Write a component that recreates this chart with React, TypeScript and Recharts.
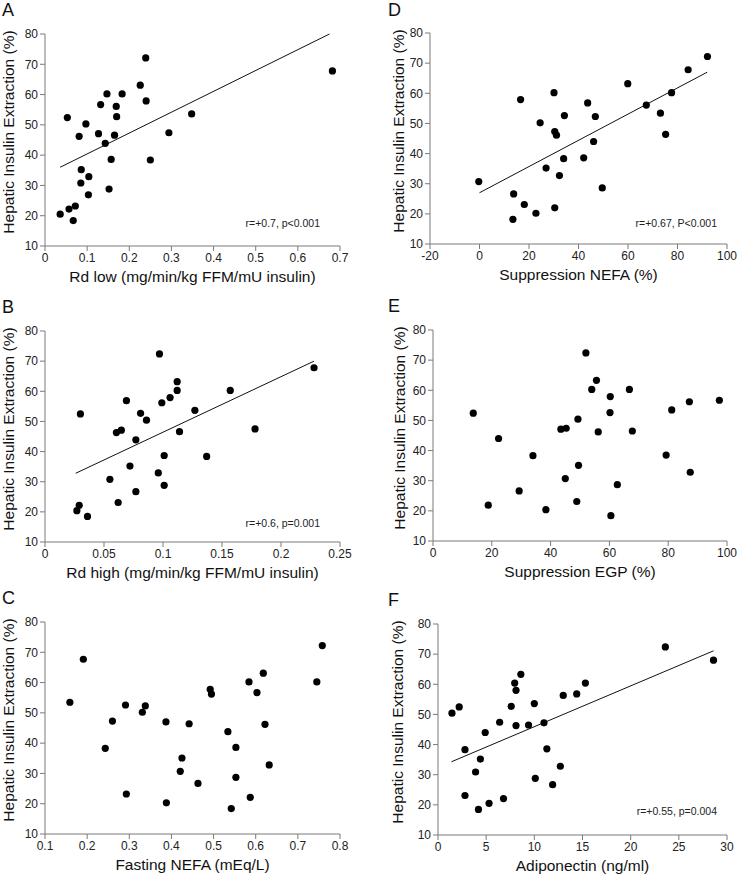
import { ReferenceLine, Scatter, ScatterChart, XAxis, YAxis } from 'recharts'

const FONT = '"Liberation Sans", Arial, sans-serif'

const yTicks = [10, 20, 30, 40, 50, 60, 70, 80]

// A: Rd low
const rdLowTicks = [0, 0.1, 0.2, 0.3, 0.4, 0.5, 0.6, 0.7]
const rdLowPts = [
  [0.682, 67.8], [0.239, 72.1], [0.226, 63.1], [0.24, 57.9], [0.147, 60.2], [0.183, 60.2],
  [0.132, 56.7], [0.169, 56.1], [0.17, 52.7], [0.053, 52.4], [0.348, 53.6], [0.097, 50.3],
  [0.127, 47.1], [0.165, 46.6], [0.081, 46.2], [0.294, 47.4], [0.143, 43.9], [0.157, 38.6],
  [0.25, 38.4], [0.086, 35.2], [0.104, 32.9], [0.085, 30.8], [0.152, 28.8], [0.103, 26.9],
  [0.072, 23.2], [0.057, 22.2], [0.036, 20.5], [0.067, 18.4],
]
const rdLowFit = [[0.036, 36], [0.675, 80]]

// B: Rd high
const rdHighTicks = [0, 0.05, 0.1, 0.15, 0.2, 0.25]
const rdHighPts = [
  [0.228, 67.8], [0.097, 72.4], [0.112, 63.2], [0.112, 60.3], [0.106, 57.9], [0.099, 56.2],
  [0.157, 60.3], [0.069, 56.9], [0.03, 52.5], [0.081, 52.7], [0.086, 50.4], [0.127, 53.7],
  [0.0605, 46.3], [0.0647, 47.1], [0.114, 46.6], [0.178, 47.5], [0.077, 43.9], [0.101, 38.7],
  [0.137, 38.4], [0.072, 35.2], [0.096, 32.9], [0.055, 30.8], [0.101, 28.8], [0.077, 26.7],
  [0.062, 23.1], [0.029, 22.2], [0.027, 20.4], [0.036, 18.5],
]
const rdHighFit = [[0.026, 32.8], [0.228, 70]]

// C: fasting NEFA
const nefaTicks = [0.1, 0.2, 0.3, 0.4, 0.5, 0.6, 0.7, 0.8]
const nefaPts = [
  [0.758, 72.2], [0.745, 60.2], [0.618, 63.1], [0.584, 60.2], [0.603, 56.7], [0.622, 46.2],
  [0.632, 32.8], [0.553, 38.6], [0.534, 43.8], [0.492, 57.8], [0.495, 56.2], [0.442, 46.4],
  [0.387, 47.0], [0.159, 53.5], [0.191, 67.7], [0.291, 52.6], [0.338, 52.3], [0.331, 50.2],
  [0.26, 47.3], [0.243, 38.3], [0.425, 35.1], [0.421, 30.7], [0.463, 26.7], [0.553, 28.7],
  [0.293, 23.2], [0.587, 22.1], [0.388, 20.3], [0.542, 18.4],
]

// D: suppression NEFA
const suppNefaTicks = [-20, 0, 20, 40, 60, 80, 100]
const suppNefaPts = [
  [92.1, 72.2], [84.3, 67.8], [77.6, 60.2], [67.4, 56.1], [59.9, 63.2], [73.1, 53.4],
  [75.2, 46.4], [30.1, 60.2], [16.6, 57.9], [43.7, 56.8], [46.8, 52.3], [34.3, 52.6],
  [24.5, 50.2], [30.4, 47.3], [31.1, 46.1], [46.1, 44.0], [34.0, 38.3], [42.1, 38.6],
  [26.9, 35.2], [32.3, 32.7], [49.6, 28.6], [-0.3, 30.7], [13.8, 26.6], [18.1, 23.1],
  [22.8, 20.2], [30.4, 22.0], [13.5, 18.2],
]
const suppNefaFit = [[0, 27], [92, 67]]

// E: suppression EGP
const egpTicks = [0, 20, 40, 60, 80, 100]
const egpPts = [
  [13.7, 52.4], [22.3, 44.0], [34.0, 38.3], [29.3, 26.6], [18.8, 21.9], [38.4, 20.4],
  [43.5, 47.1], [45.3, 47.4], [49.3, 50.4], [52.0, 72.4], [55.6, 63.3], [54.0, 60.3],
  [60.3, 57.9], [60.2, 52.6], [56.2, 46.2], [66.8, 60.3], [67.8, 46.5], [49.5, 35.1],
  [45.0, 30.7], [48.9, 23.1], [62.7, 28.7], [79.3, 38.5], [81.2, 53.5], [87.2, 56.2],
  [97.4, 56.7], [87.5, 32.8], [60.5, 18.4],
]

// F: adiponectin
const adipoTicks = [0, 5, 10, 15, 20, 25, 30]
const adipoPts = [
  [28.6, 68.0], [23.6, 72.4], [15.3, 60.4], [14.4, 56.8], [13.0, 56.3], [10.0, 53.6],
  [8.6, 63.3], [7.96, 60.4], [8.1, 58.0], [7.6, 52.7], [2.2, 52.5], [1.45, 50.4],
  [6.4, 47.4], [8.1, 46.3], [9.4, 46.5], [11.0, 47.2], [4.9, 44.0], [2.8, 38.3],
  [11.3, 38.6], [4.4, 35.2], [3.9, 30.9], [12.7, 32.8], [10.1, 28.8], [11.9, 26.7],
  [2.8, 23.1], [6.8, 22.1], [4.2, 18.5], [5.3, 20.5],
]
const adipoFit = [[1.4, 34.3], [28.6, 71.1]]

type Pt = number[]
type Rect = { left: number; right: number; top: number; bottom: number }

type PanelProps = {
  letter: string
  plot: Rect
  ticks: number[]
  xTitle: string
  pts: Pt[]
  fit?: Pt[]
  stat?: string
  statAt?: number[]
  yTitleX: number
}

const Dot = (p: any) => <circle cx={p.cx} cy={p.cy} r={3.6} fill="#000" />

function Panel({ letter, plot, ticks, xTitle, pts, fit, stat, statAt, yTitleX }: PanelProps) {
  const yAxisW = 45
  const left = plot.left - yAxisW
  const top = plot.top - 8
  const width = plot.right + 22 - left
  const height = plot.bottom + 40 - top
  const data = pts.map(([x, y]) => ({ x, y }))
  const tickStyle = { fontSize: 12, fill: '#222', fontFamily: FONT }

  return (
    <>
      <div
        style={{
          position: 'absolute',
          left: letter < 'D' ? 2 : 388,
          top: Math.max(1, plot.top - 33),
          fontSize: 18,
          lineHeight: 1,
        }}
      >
        {letter}
      </div>
      <div style={{ position: 'absolute', left, top }}>
        <ScatterChart
          width={width}
          height={height}
          margin={{ top: 8, right: 22, bottom: 0, left: 0 }}
        >
          <XAxis
            type="number"
            dataKey="x"
            domain={[ticks[0], ticks[ticks.length - 1]]}
            ticks={ticks}
            interval={0}
            height={40}
            tickSize={5}
            stroke="#7a7a7a"
            tick={tickStyle}
          />
          <YAxis
            type="number"
            dataKey="y"
            domain={[10, 80]}
            ticks={yTicks}
            interval={0}
            width={yAxisW}
            tickSize={5}
            stroke="#7a7a7a"
            tick={tickStyle}
          />
          {fit && (
            <ReferenceLine
              segment={[
                { x: fit[0][0], y: fit[0][1] },
                { x: fit[1][0], y: fit[1][1] },
              ]}
              stroke="#111"
              strokeWidth={1}
            />
          )}
          <Scatter data={data} shape={Dot} isAnimationActive={false} />
        </ScatterChart>
      </div>
      <div
        style={{
          position: 'absolute',
          left: yTitleX,
          top: plot.top + 98,
          transform: 'translate(-50%, -50%) rotate(-90deg)',
          whiteSpace: 'nowrap',
          fontSize: 15.5,
          lineHeight: 1,
        }}
      >
        Hepatic Insulin Extraction (%)
      </div>
      <div
        style={{
          position: 'absolute',
          left: (plot.left + plot.right) / 2,
          top: plot.bottom + 31,
          transform: 'translate(-50%, -50%)',
          whiteSpace: 'nowrap',
          fontSize: 15.5,
          lineHeight: 1,
        }}
      >
        {xTitle}
      </div>
      {stat && statAt && (
        <div
          style={{
            position: 'absolute',
            right: 739 - statAt[0],
            top: statAt[1],
            transform: 'translateY(-50%)',
            whiteSpace: 'nowrap',
            fontSize: 10.5,
            lineHeight: 1,
            color: '#222',
          }}
        >
          {stat}
        </div>
      )}
    </>
  )
}

export default function App() {
  return (
    <div
      style={{
        position: 'absolute',
        left: 0,
        top: 0,
        width: 739,
        height: 875,
        background: '#fff',
        fontFamily: FONT,
        color: '#111',
        overflow: 'hidden',
      }}
    >
      <Panel
        letter="A"
        plot={{ left: 45, right: 340, top: 34, bottom: 246 }}
        ticks={rdLowTicks}
        xTitle="Rd low (mg/min/kg FFM/mU insulin)"
        pts={rdLowPts}
        fit={rdLowFit}
        stat="r=+0.7, p<0.001"
        statAt={[320, 223]}
        yTitleX={9}
      />
      <Panel
        letter="B"
        plot={{ left: 45, right: 340, top: 331, bottom: 542 }}
        ticks={rdHighTicks}
        xTitle="Rd high (mg/min/kg FFM/mU insulin)"
        pts={rdHighPts}
        fit={rdHighFit}
        stat="r=+0.6, p=0.001"
        statAt={[320, 523]}
        yTitleX={9}
      />
      <Panel
        letter="C"
        plot={{ left: 45, right: 340, top: 622, bottom: 834 }}
        ticks={nefaTicks}
        xTitle="Fasting NEFA (mEq/L)"
        pts={nefaPts}
        yTitleX={9}
      />
      <Panel
        letter="D"
        plot={{ left: 430, right: 727, top: 33, bottom: 244 }}
        ticks={suppNefaTicks}
        xTitle="Suppression NEFA (%)"
        pts={suppNefaPts}
        fit={suppNefaFit}
        stat="r=+0.67, P<0.001"
        statAt={[717, 223]}
        yTitleX={399}
      />
      <Panel
        letter="E"
        plot={{ left: 433, right: 727, top: 330, bottom: 541 }}
        ticks={egpTicks}
        xTitle="Suppression EGP (%)"
        pts={egpPts}
        yTitleX={400}
      />
      <Panel
        letter="F"
        plot={{ left: 438, right: 727, top: 624, bottom: 835 }}
        ticks={adipoTicks}
        xTitle="Adiponectin (ng/ml)"
        pts={adipoPts}
        fit={adipoFit}
        stat="r=+0.55, p=0.004"
        statAt={[717, 811]}
        yTitleX={398}
      />
    </div>
  )
}
